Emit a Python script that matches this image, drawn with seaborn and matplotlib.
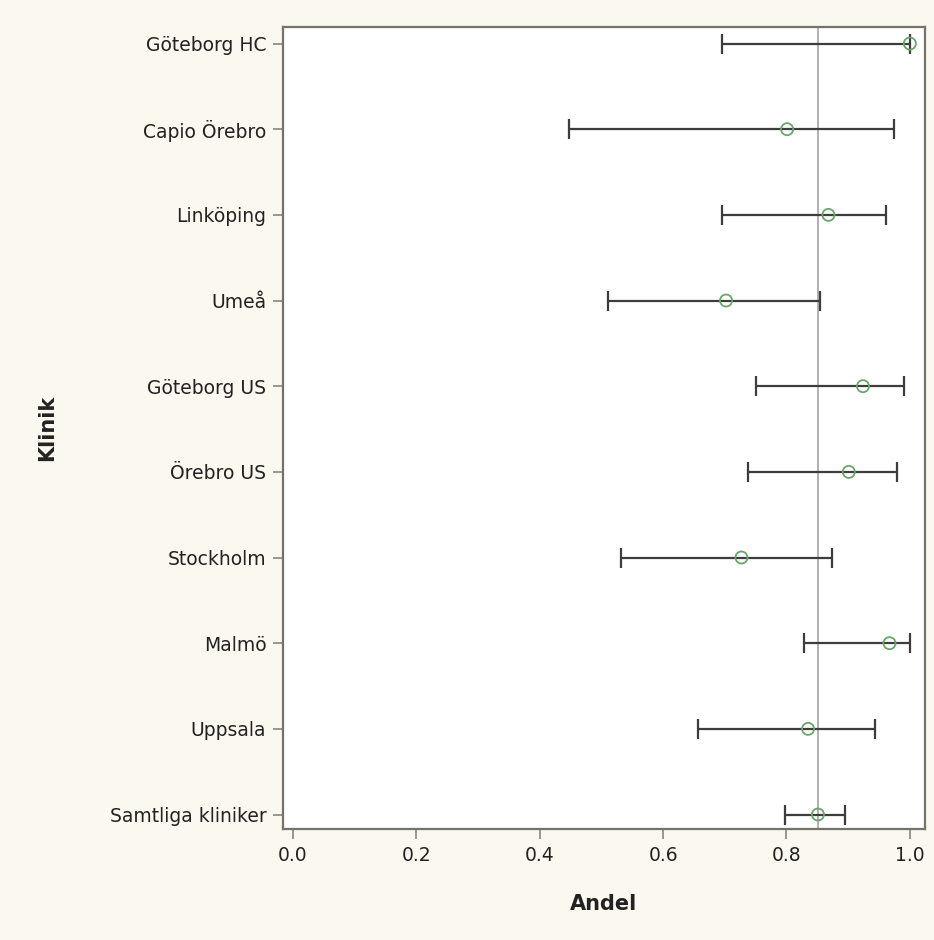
import numpy as np
import pandas as pd
import seaborn as sns
import matplotlib.pyplot as plt

clinics = ["Göteborg HC", "Capio Örebro", "Linköping", "Umeå", "Göteborg US",
           "Örebro US", "Stockholm", "Malmö", "Uppsala", "Samtliga kliniker"]
andel = [1.0, 0.801, 0.868, 0.702, 0.924, 0.901, 0.727, 0.967, 0.835, 0.851]
lower = [0.695, 0.448, 0.695, 0.510, 0.751, 0.737, 0.532, 0.829, 0.656, 0.798]
upper = [1.0, 0.975, 0.962, 0.854, 0.990, 0.979, 0.874, 1.0, 0.944, 0.895]
ref_value = 0.851
xticks = [0.0, 0.2, 0.4, 0.6, 0.8, 1.0]

df = pd.DataFrame({"Klinik": clinics, "Andel": andel, "lo": lower, "hi": upper})

sns.set_theme(style="white")
plt.rcParams["font.family"] = ["DejaVu Sans"]
bg = "#fbf8f0"
edge = "#76726a"

fig = plt.figure(figsize=(9.34, 9.40), dpi=100, facecolor=bg)
ax = fig.add_axes([0.303, 0.118, 0.687, 0.853])
ax.set_facecolor("white")

ax.axvline(ref_value, color="#a3a3a3", lw=1.2, zorder=1)

ax.errorbar(df["Andel"], df["Klinik"],
            xerr=[df["Andel"] - df["lo"], df["hi"] - df["Andel"]],
            fmt="none", ecolor="#3d3d3d", elinewidth=1.6, capsize=7, capthick=1.6,
            zorder=2)
sns.scatterplot(data=df, x="Andel", y="Klinik", ax=ax, marker="o", s=75,
                facecolor="none", edgecolor="#6aa56a", linewidth=1.3, zorder=3)

ax.set_xlim(-0.0162, 1.024)
ax.set_ylim(9.17, -0.19)
ax.set_xticks(xticks)
ax.set_xticklabels([f"{t:.1f}" for t in xticks])

for s in ax.spines.values():
    s.set_color(edge)
    s.set_linewidth(1.6)
ax.tick_params(axis="both", which="major", direction="out", length=7, width=1.2,
               color="#8a877f", labelsize=13.5, labelcolor="#222222", pad=5,
               bottom=True, left=True)

ax.set_xlabel("Andel", fontsize=15, fontweight="bold", color="#222222", labelpad=21)
ax.set_ylabel("Klinik", fontsize=15, fontweight="bold", color="#222222", labelpad=38)

fig.savefig("out.png", dpi=100, facecolor=bg)
